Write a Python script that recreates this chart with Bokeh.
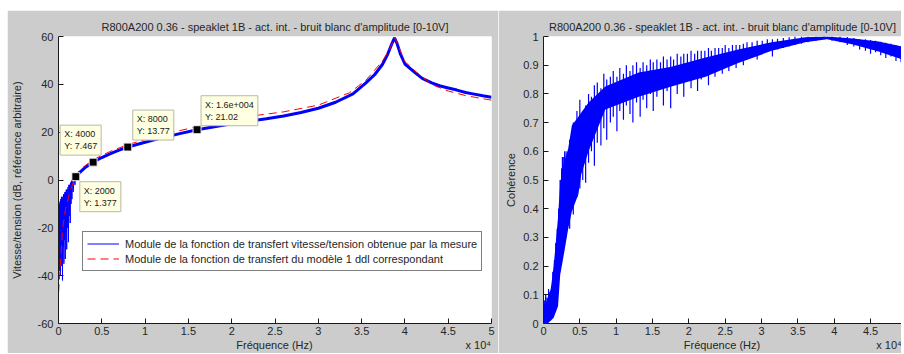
from bokeh.plotting import figure
from bokeh.layouts import row, column
from bokeh.models import (Range1d, Label, Legend, LegendItem, FixedTicker, Spacer)
from bokeh.embed import file_html
from bokeh.resources import INLINE

# ---------------- data ----------------
TITLE = "R800A200 0.36 - speaklet 1B - act. int. - bruit blanc d'amplitude [0-10V]"
XLABEL = "Fréquence (Hz)"
XMULT = "x 10\u2074"

x_ticks = [0, 5000, 10000, 15000, 20000, 25000, 30000, 35000, 40000, 45000, 50000]
x_tick_labels = ["0", "0.5", "1", "1.5", "2", "2.5", "3", "3.5", "4", "4.5", "5"]
y1_ticks = [-60, -40, -20, 0, 20, 40, 60]
y2_ticks = [0, 0.1, 0.2, 0.3, 0.4, 0.5, 0.6, 0.7, 0.8, 0.9, 1]
y2_tick_labels = ["0", "0.1", "0.2", "0.3", "0.4", "0.5", "0.6", "0.7", "0.8", "0.9", "1"]

# measured transfer function (dB): noisy low-frequency part
meas_low_f = [20, 40, 60, 90, 120, 150, 180, 220, 260, 300, 340, 380, 420, 460, 500,
              540, 580, 620, 660, 700, 740, 780, 820, 860, 900, 950, 1000, 1050, 1100,
              1150, 1200, 1250, 1300, 1350, 1400, 1450, 1500, 1550, 1600, 1700, 1800,
              1900, 2000]
meas_low_db = [-13, -37, -12, -33, -10, -38, -9, -40, -8, -30, -7, -36, -8, -42, -7,
               -28, -6, -35, -6, -25, -5, -33, -5, -22, -4, -29, -4, -20, -3,
               -26, -2, -15, -2, -18, -1, -10, 0, -8, 0, -5, 1, -2, 1.4]
# measured transfer function (dB): main curve
meas_f = [2000, 2500, 3000, 4000, 5000, 6000, 7000, 8000, 10000, 12000, 14000, 16000,
          18000, 20000, 22000, 24000, 26000, 28000, 30000, 32000, 34000, 35500, 36500,
          37400, 38000, 38500, 38800, 39100, 39500, 40000, 41200, 42000, 43100, 44000,
          45000, 46000, 47000, 48000, 49000, 50000]
meas_db = [1.4, 3.3, 5.0, 7.5, 9.4, 11.0, 12.5, 13.8, 15.8, 17.7, 19.4, 21.0,
           22.3, 23.5, 24.6, 25.6, 26.8, 28.2, 30.0, 32.5, 36.0, 40.6, 44.0,
           48.3, 52.5, 57.0, 59.4, 57.0, 52.5, 48.5, 44.8, 42.5, 40.6, 39.4,
           38.5, 37.6, 36.6, 35.9, 35.2, 34.6]
# 1-dof model (dB)
model_f = [10, 230, 460, 800, 1380, 1760, 2000, 3000, 4000, 6000, 8000, 12000, 16000,
           20000, 22000, 26000, 30000, 33600, 35500, 37400, 38300, 38800, 39300, 40000,
           41200, 43100, 45000, 47000, 49000, 50000]
model_db = [-47, -34.6, -20.7, -12.3, -4, -0.5, 2.5, 5.8, 8.5, 12.0, 14.8, 19.0, 22.3,
            25.2, 26.6, 28.5, 31.3, 36.5, 41.7, 49.7, 55.0, 59.8, 55.5, 49.5,
            45.5, 39.9, 37.2, 35.3, 34.0, 33.4]
# data tips
tip_f = [2000, 4000, 8000, 16000]
tip_db = [1.377, 7.467, 13.77, 21.02]
tip_text = ["X: 2000\nY: 1.377", "X: 4000\nY: 7.467", "X: 8000\nY: 13.77",
            "X: 1.6e+004\nY: 21.02"]

# coherence: dense core band
coh_core_f = [0, 500, 1000, 1400, 2000, 2300, 2800, 3400, 3900, 4800, 5200, 6200, 8500,
              13100, 17600, 22300, 26800, 31400, 36000, 39000, 42600, 46100, 49400]
coh_core_hi = [0.06, 0.08, 0.12, 0.2, 0.37, 0.49, 0.56, 0.61, 0.69, 0.72, 0.735, 0.77, 0.826,
               0.875, 0.895, 0.927, 0.955, 0.98, 0.997, 1.0, 0.993, 0.983, 0.965]
coh_core_lo = [0.0, 0.0, 0.01, 0.02, 0.06, 0.17, 0.24, 0.33, 0.39, 0.45, 0.52, 0.6, 0.746,
               0.79, 0.826, 0.86, 0.908, 0.95, 0.98, 0.99, 0.972, 0.948, 0.92]
# coherence: noisy start
coh_low_f = [0, 100, 200, 300, 400, 500, 600, 700, 800, 900, 1000, 1100, 1200, 1300, 1400,
             1500, 1600, 1700, 1800, 1900, 2000, 2100, 2200, 2300, 2400, 2500, 2600, 2700,
             2800, 2900]
coh_low_val = [0.0, 0.08, 0.0, 0.1, 0.01, 0.09, 0.0, 0.12, 0.02, 0.11, 0.03, 0.13, 0.04, 0.18,
               0.07, 0.22, 0.1, 0.28, 0.13, 0.33, 0.16, 0.4, 0.2, 0.5, 0.22, 0.54, 0.26, 0.58,
               0.3, 0.6]
# coherence: spikes (frequency, lowest, highest value)
spk_f = [2600, 3100, 3600, 4100, 4600, 5000, 5400, 5800, 6200, 6600, 7000, 7400, 7900,
         8300, 8700, 9200, 9600, 10100, 10500, 11000, 11400, 11900, 12300, 12800, 13300,
         13700, 14200, 14700, 15100, 15600, 16100, 16500, 17000, 17500, 17900, 18400,
         18900, 19300, 19800, 20300, 20800, 21200, 21700, 22200, 22700, 23100, 23600,
         24100, 24600, 25000, 25500, 26000, 26500, 27000, 27500, 28000, 28700, 29400,
         30100, 30800, 31500, 32200, 33000, 33800, 34600, 35500, 36400, 37500, 38600,
         39700, 40800, 41800, 42700, 43500, 44300, 45000, 45700, 46400, 47100, 47800,
         48500, 49200]
spk_lo = [0.24, 0.30, 0.33, 0.38, 0.44, 0.47, 0.50, 0.49, 0.56, 0.60, 0.55, 0.63, 0.62,
          0.68, 0.64, 0.70, 0.72, 0.67, 0.74, 0.71, 0.76, 0.73, 0.70, 0.77, 0.72,
          0.78, 0.75, 0.80, 0.74, 0.79, 0.82, 0.76, 0.81, 0.75, 0.83, 0.80,
          0.84, 0.79, 0.85, 0.82, 0.86, 0.81, 0.85, 0.87, 0.83, 0.88, 0.86,
          0.89, 0.87, 0.90, 0.88, 0.91, 0.89, 0.92, 0.90, 0.92, 0.93, 0.92,
          0.94, 0.95, 0.93, 0.955, 0.96, 0.965, 0.97, 0.975, 0.98, 0.985, 0.99,
          0.985, 0.98, 0.97, 0.965, 0.955, 0.95, 0.94, 0.945, 0.935, 0.925, 0.93,
          0.915, 0.91]
spk_hi = [0.58, 0.60, 0.64, 0.70, 0.74, 0.78, 0.73, 0.76, 0.80, 0.79, 0.83, 0.84, 0.82,
          0.87, 0.85, 0.86, 0.88, 0.86, 0.89, 0.87, 0.90, 0.88, 0.90, 0.91, 0.89,
          0.91, 0.90, 0.92, 0.91, 0.92, 0.91, 0.93, 0.92, 0.93, 0.92, 0.94,
          0.93, 0.94, 0.94, 0.95, 0.94, 0.95, 0.95, 0.95, 0.96, 0.95, 0.96,
          0.96, 0.96, 0.97, 0.96, 0.97, 0.97, 0.97, 0.975, 0.98, 0.98, 0.985,
          0.985, 0.99, 0.99, 0.992, 0.995, 0.997, 1.0, 1.0, 1.0, 1.0, 1.0,
          1.0, 1.0, 0.998, 0.995, 0.99, 0.99, 0.988, 0.985, 0.982, 0.978, 0.975,
          0.97, 0.966]

LEG1 = "Module de la fonction de transfert vitesse/tension obtenue par la mesure"
LEG2 = "Module de la fonction de transfert du modèle 1 ddl correspondant"

# ---------------- style ----------------
GRAY = "#cccccc"
FONT = "Liberation Sans"
TXT = "#262626"
BLUE = "#0000ff"
RED = "#ff0000"
NB = "\u00a0"


def style(p, xlabel, ylabel, yticks, ylabels, ylabel_standoff):
    p.grid.visible = False
    p.title.text_font = FONT
    p.title.text_font_size = "11px"
    p.title.text_font_style = "normal"
    p.title.text_color = TXT
    p.title.align = "center"
    p.title.standoff = 8
    for ax in (p.xaxis[0], p.yaxis[0]):
        ax.axis_line_color = "#1a1a1a"
        ax.major_tick_line_color = "#1a1a1a"
        ax.major_tick_in = 5
        ax.major_tick_out = 0
        ax.minor_tick_line_color = None
        ax.major_label_text_font = FONT
        ax.major_label_text_font_size = "11px"
        ax.major_label_text_color = TXT
        ax.axis_label_text_font = FONT
        ax.axis_label_text_font_size = "11px"
        ax.axis_label_text_font_style = "normal"
        ax.axis_label_text_color = TXT
    p.xaxis[0].ticker = FixedTicker(ticks=x_ticks)
    p.xaxis[0].major_label_overrides = dict(zip(x_ticks, x_tick_labels))
    p.xaxis[0].axis_label = xlabel
    p.xaxis[0].major_label_standoff = 3
    p.xaxis[0].axis_label_standoff = 1
    p.yaxis[0].ticker = FixedTicker(ticks=yticks)
    p.yaxis[0].major_label_overrides = dict(zip(yticks, ylabels))
    p.yaxis[0].axis_label = ylabel
    p.yaxis[0].major_label_standoff = 5
    p.yaxis[0].axis_label_standoff = ylabel_standoff


# x-axis label with the "x 10^4" multiplier at the right end
xlabel_left = NB * 58 + XLABEL + NB * 50 + XMULT
xlabel_right = NB * 46 + XLABEL + NB * 38 + XMULT

# ---------------- left panel ----------------
p1 = figure(width=491, height=343, x_range=Range1d(0, 50000), y_range=Range1d(-60, 60),
            output_backend="svg", toolbar_location=None, title=TITLE,
            min_border_left=49, min_border_right=7, min_border_top=26, min_border_bottom=30,
            border_fill_color=GRAY, background_fill_color="white", outline_line_color=None)
style(p1, xlabel_left, "Vitesse/tension (dB, référence arbitraire)",
      y1_ticks, [str(t) for t in y1_ticks], 12)

r_low = p1.line(meas_low_f, meas_low_db, line_color=BLUE, line_width=1)
p1.line(meas_f, meas_db, line_color=BLUE, line_width=3)
r_mod = p1.line(model_f, model_db, line_color=RED, line_width=1, line_dash="8 5")
p1.scatter(tip_f, tip_db, marker="square", size=8, fill_color="black", line_color="#f4f4f4")

# (text_baseline, x_offset, y_offset) of each data-tip box
tip_pos = [("top", 4, -5), ("bottom", -33, 7), ("bottom", 5, 7), ("bottom", 4, 4)]
for f, v, t, (bl, dx, dy) in zip(tip_f, tip_db, tip_text, tip_pos):
    p1.add_layout(Label(x=f, y=v, text=t, x_offset=dx, y_offset=dy, text_align="left",
                        text_baseline=bl, text_font=FONT, text_font_size="9px",
                        text_color="#202020", background_fill_color="#ffffe1",
                        border_line_color="#b8b8a8", padding=4))

legend = Legend(items=[LegendItem(label=LEG1, renderers=[r_low]),
                       LegendItem(label=LEG2, renderers=[r_mod])],
                location=(24, 52), border_line_color="black", border_line_width=1,
                background_fill_color="white", background_fill_alpha=1.0,
                label_text_font=FONT, label_text_font_size="11px", label_text_color=TXT,
                glyph_width=32, glyph_height=15, label_height=15, label_standoff=6,
                spacing=0, padding=4, margin=0)
p1.add_layout(legend)

# ---------------- right panel ----------------
p2 = figure(width=403, height=343, x_range=Range1d(0, 49260), y_range=Range1d(0, 1),
            output_backend="svg", toolbar_location=None, title=TITLE,
            min_border_left=45, min_border_right=0, min_border_top=26, min_border_bottom=30,
            border_fill_color=GRAY, background_fill_color="white", outline_line_color=None)
style(p2, xlabel_right, "Cohérence", y2_ticks, y2_tick_labels, 3)
p2.varea(x=coh_core_f, y1=coh_core_lo, y2=coh_core_hi, fill_color=BLUE)
p2.line(coh_low_f, coh_low_val, line_color=BLUE, line_width=1)
p2.segment(x0=spk_f, y0=spk_lo, x1=spk_f, y1=spk_hi, line_color=BLUE, line_width=1.2)

layout = column(Spacer(height=10), row(Spacer(width=7), p1, p2))
open("out.html", "w").write(file_html(layout, INLINE))
